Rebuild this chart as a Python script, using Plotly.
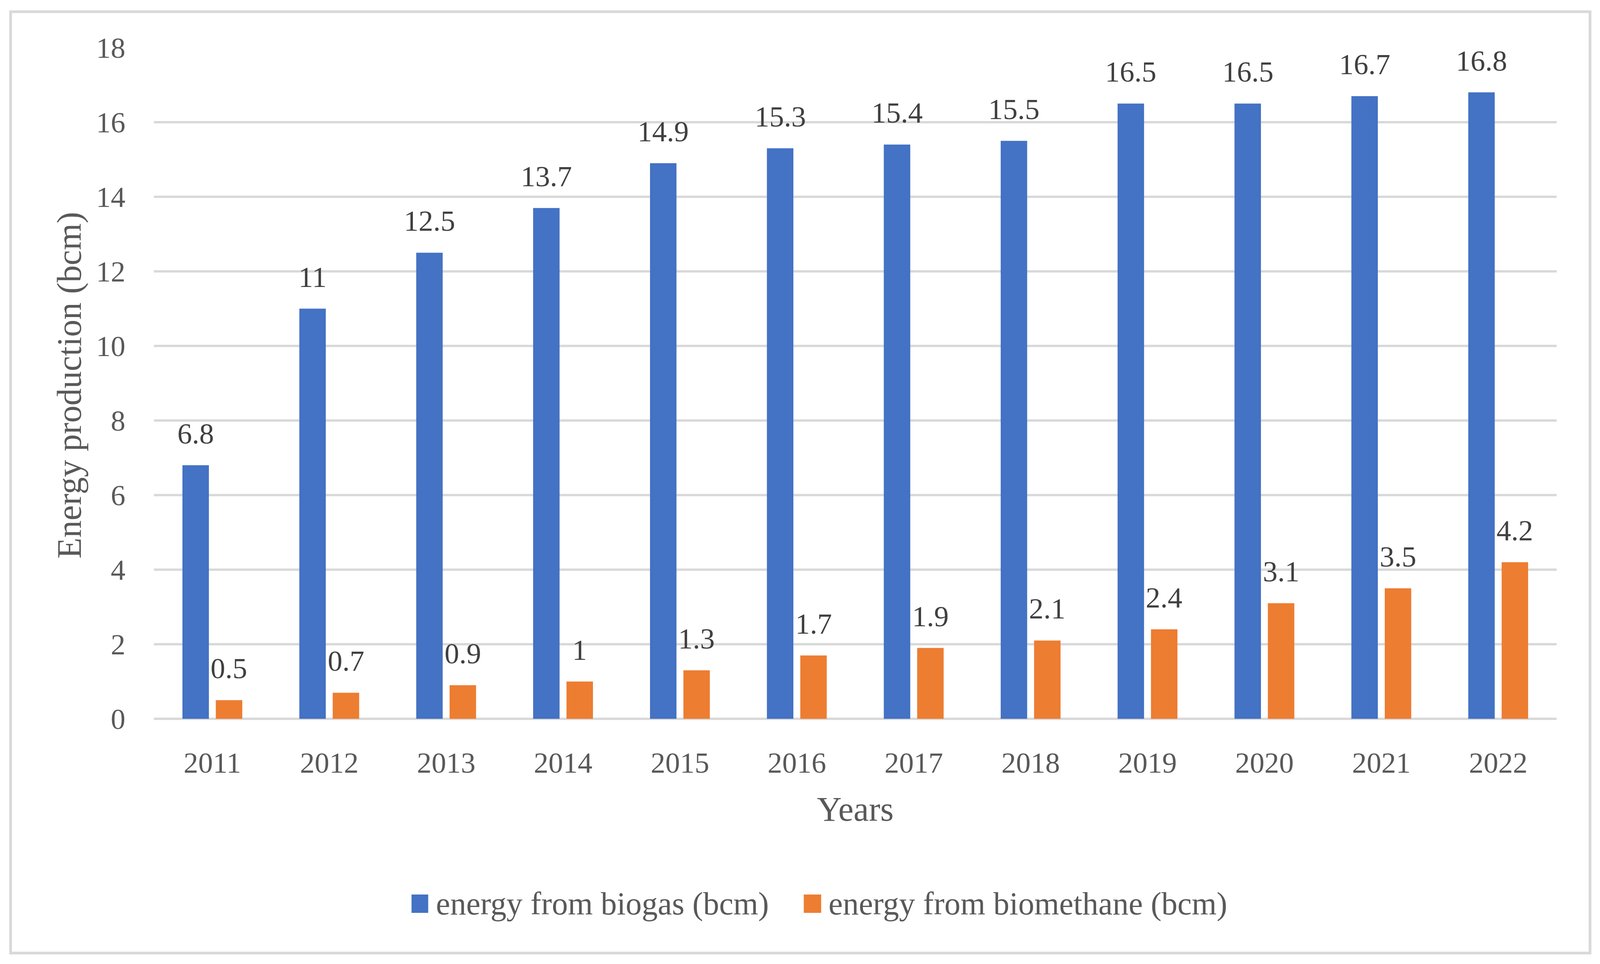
import plotly.graph_objects as go

years = ["2011", "2012", "2013", "2014", "2015", "2016", "2017", "2018", "2019", "2020", "2021", "2022"]
biogas = [6.8, 11, 12.5, 13.7, 14.9, 15.3, 15.4, 15.5, 16.5, 16.5, 16.7, 16.8]
biomethane = [0.5, 0.7, 0.9, 1, 1.3, 1.7, 1.9, 2.1, 2.4, 3.1, 3.5, 4.2]
series_names = ["energy from biogas (bcm)", "energy from biomethane (bcm)"]
colors = ["#4472C4", "#ED7D31"]
y_ticks = [0, 2, 4, 6, 8, 10, 12, 14, 16, 18]
x_title = "Years"
y_title = "Energy production (bcm)"

FONT = "Liberation Serif"
TICK_COLOR = "#595959"
LABEL_COLOR = "#404040"

W, H = 4410, 2469
L, R, T, B = 424, 120, 122, 628
PW, PH = W - L - R, H - T - B
BARGAP, BARGROUPGAP = 0.429, 0.207

def px_x(p):
    return (p - L) / PW

def px_y(p):
    return (H - B - p) / PH

fig = go.Figure()
for name, vals, col in zip(series_names, [biogas, biomethane], colors):
    fig.add_trace(go.Bar(x=years, y=vals, name=name, marker=dict(color=col, line=dict(width=0)),
                         showlegend=False, hoverinfo="x+y"))

# data labels centred over each bar of the group (offset in category units)
slot = (1 - BARGAP) / 2
annotations = []
for vals, off in [(biogas, -slot / 2), (biomethane, slot / 2)]:
    for i, v in enumerate(vals):
        annotations.append(dict(x=i + off, y=v, xref="x", yref="y", text=f"{v:g}", showarrow=False,
                                xanchor="center", yanchor="bottom", yshift=38,
                                font=dict(family=FONT, size=75, color=LABEL_COLOR)))

# y-axis title
annotations.append(dict(x=px_x(190), y=px_y(987), xref="paper", yref="paper", text=y_title,
                        textangle=-90, showarrow=False, xanchor="center", yanchor="middle",
                        font=dict(family=FONT, size=88, color=TICK_COLOR)))

# custom legend (large square swatches)
shapes = []
legend_marker_x = [(1134, 1180), (2215, 2263)]
legend_text_x = [1199, 2281]
for (x0, x1), tx, name, col in zip(legend_marker_x, legend_text_x, series_names, colors):
    shapes.append(dict(type="rect", xref="paper", yref="paper", x0=px_x(x0), x1=px_x(x1),
                       y0=px_y(2338), y1=px_y(2291), fillcolor=col, line=dict(width=0)))
    annotations.append(dict(x=px_x(tx), y=px_y(2314), xref="paper", yref="paper", text=name,
                            showarrow=False, xanchor="left", yanchor="middle",
                            font=dict(family=FONT, size=82, color=TICK_COLOR)))

# outer border
shapes.append(dict(type="rect", xref="paper", yref="paper", x0=px_x(29), x1=px_x(4382),
                   y0=px_y(2441), y1=px_y(30), line=dict(color="#D9D9D9", width=7),
                   fillcolor="rgba(0,0,0,0)", layer="below"))

fig.update_layout(
    width=W, height=H,
    margin=dict(l=L, r=R, t=T, b=B, pad=0),
    paper_bgcolor="white", plot_bgcolor="white",
    barmode="group", bargap=BARGAP, bargroupgap=BARGROUPGAP,
    font=dict(family=FONT, color=TICK_COLOR),
    annotations=annotations, shapes=shapes,
    xaxis=dict(
        type="category", categoryorder="array", categoryarray=years,
        range=[-0.5, len(years) - 0.5], autorange=False,
        showgrid=False, showline=False, ticks="",
        tickfont=dict(family=FONT, size=75, color=TICK_COLOR),
        ticklabelstandoff=62,
        title=dict(text=x_title, font=dict(family=FONT, size=88, color=TICK_COLOR), standoff=46),
    ),
    yaxis=dict(
        range=[0, 18], autorange=False, tickvals=y_ticks, ticktext=[str(t) for t in y_ticks],
        showgrid=True, gridcolor="#D9D9D9", gridwidth=6,
        zeroline=True, zerolinecolor="#D9D9D9", zerolinewidth=6,
        showline=False, ticks="",
        tickfont=dict(family=FONT, size=75, color=TICK_COLOR),
        ticklabelstandoff=72,
    ),
)

# Fit the figure to the actual viewport (the window may be narrower than requested)
fit = """
document.documentElement.style.margin = '0';
document.body.style.margin = '0';
document.body.style.overflow = 'hidden';
var gd = document.getElementById('{plot_id}');
var sx = window.innerWidth / %d;
var sy = window.innerHeight / %d;
if (Math.abs(sx - 1) > 0.001 || Math.abs(sy - 1) > 0.001) {
  Plotly.relayout(gd, {width: %d * sx, height: %d * sy,
    'margin.l': %d * sx, 'margin.r': %d * sx, 'margin.t': %d * sy, 'margin.b': %d * sy});
}
""" % (W, H, W, H, L, R, T, B)

fig.write_html("out.html", post_script=fit, config={"displayModeBar": False})
